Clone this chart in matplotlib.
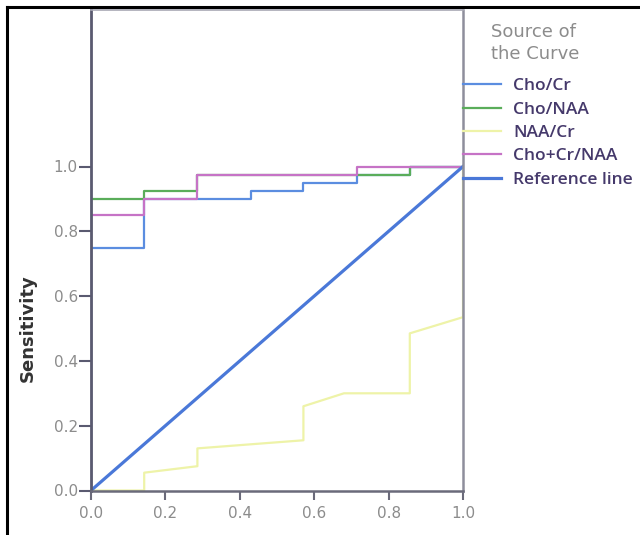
import matplotlib
matplotlib.use("Agg")
import matplotlib.pyplot as plt
from matplotlib.lines import Line2D

# ---- data (1 - specificity, sensitivity) ----
series_names = ["Cho/Cr", "Cho/NAA", "NAA/Cr", "Cho+Cr/NAA"]
fpr_cho_cr = [0, 0, 0.143, 0.143, 0.429, 0.429, 0.571, 0.571, 0.714, 0.714, 0.857, 0.857, 1.0]
tpr_cho_cr = [0, 0.75, 0.75, 0.90, 0.90, 0.925, 0.925, 0.95, 0.95, 0.975, 0.975, 1.0, 1.0]
fpr_cho_naa = [0, 0, 0.143, 0.143, 0.286, 0.286, 0.857, 0.857, 1.0]
tpr_cho_naa = [0, 0.90, 0.90, 0.925, 0.925, 0.975, 0.975, 1.0, 1.0]
fpr_naa_cr = [0, 0.143, 0.143, 0.286, 0.286, 0.571, 0.571, 0.68, 0.857, 0.857, 1.0, 1.0]
tpr_naa_cr = [0, 0, 0.055, 0.075, 0.13, 0.155, 0.26, 0.30, 0.30, 0.485, 0.535, 1.0]
fpr_combo = [0, 0, 0.143, 0.143, 0.286, 0.286, 0.714, 0.714, 1.0]
tpr_combo = [0, 0.85, 0.85, 0.90, 0.90, 0.975, 0.975, 1.0, 1.0]
ref_x = [0, 1]
ref_y = [0, 1]
tick_vals = [0.0, 0.2, 0.4, 0.6, 0.8, 1.0]
tick_labels = ["0.0", "0.2", "0.4", "0.6", "0.8", "1.0"]

colors = {
    "Cho/Cr": "#5b8de0",
    "Cho/NAA": "#5aad5a",
    "NAA/Cr": "#eef3a8",
    "Cho+Cr/NAA": "#c673c6",
    "Reference line": "#4a78d8",
}

W, H = 640, 535
fig = plt.figure(figsize=(W / 100, H / 100), dpi=100)
fig.patch.set_facecolor("white")

ax_left, ax_right, ax_top, ax_bottom = 91, 463, 10, 490.5
ax = fig.add_axes([ax_left / W, 1 - ax_bottom / H, (ax_right - ax_left) / W, (ax_bottom - ax_top) / H])

lw = 1.6
ax.plot(fpr_cho_cr, tpr_cho_cr, color=colors["Cho/Cr"], lw=lw, label="Cho/Cr", zorder=3)
ax.plot(fpr_cho_naa, tpr_cho_naa, color=colors["Cho/NAA"], lw=lw, label="Cho/NAA", zorder=3)
ax.plot(fpr_naa_cr, tpr_naa_cr, color=colors["NAA/Cr"], lw=lw, label="NAA/Cr", zorder=3)
ax.plot(fpr_combo, tpr_combo, color=colors["Cho+Cr/NAA"], lw=lw, label="Cho+Cr/NAA", zorder=3.1)
ax.plot(ref_x, ref_y, color=colors["Reference line"], lw=2.3, label="Reference line", zorder=3.2)

y_per_unit = 324.0
ax.set_xlim(0, 1)
ax.set_ylim(0, (ax_bottom - ax_top) / y_per_unit)

ax.set_xticks(tick_vals)
ax.set_xticklabels(tick_labels)
ax.set_yticks(tick_vals)
ax.set_yticklabels(tick_labels)

for side, col, w in [("left", "#5a5a70", 2.0), ("bottom", "#6a6a7a", 1.8),
                     ("right", "#8e8e9c", 1.8), ("top", "#a8a8b4", 1.2)]:
    ax.spines[side].set_color(col)
    ax.spines[side].set_linewidth(w)
    ax.spines[side].set_zorder(4)

ax.tick_params(axis="y", direction="out", length=8.5, width=1.5, color="#5a5a70",
               labelsize=11, labelcolor="#8c8c8c", pad=1)
ax.tick_params(axis="x", direction="out", length=6.5, width=1.5, color="#6a6a7a",
               labelsize=11, labelcolor="#8c8c8c", pad=5)

# y label centred on the 0..1 range
ax.text(-0.17, 0.5, "Sensitivity", transform=ax.get_yaxis_transform(),
        rotation=90, ha="center", va="center", fontsize=13, fontweight="bold",
        color="#333333", family="DejaVu Sans")

# legend title
fig.text(491 / W, 1 - 23 / H, "Source of\nthe Curve", ha="left", va="top",
         fontsize=13, color="#8c8c8c", linespacing=1.28)

handles, labels = ax.get_legend_handles_labels()
leg = fig.legend(handles, labels, loc="upper left",
                 bbox_to_anchor=(ax_right / W, 1 - 78 / H),
                 frameon=False, handlelength=2.2, handletextpad=0.7,
                 borderpad=0, borderaxespad=0, labelspacing=0.42,
                 prop={"family": "Open Sans", "size": 12.5, "weight": "semibold"})
for t in leg.get_texts():
    t.set_color("#45396b")

# scanned-page border (left and top)
fig.add_artist(Line2D([7 / W, 7 / W], [0, 1 - 7 / H], color="black", lw=2.2,
                      transform=fig.transFigure))
fig.add_artist(Line2D([7 / W, 1], [1 - 7 / H, 1 - 7 / H], color="black", lw=2.2,
                      transform=fig.transFigure))

fig.savefig("out.png", dpi=100)
